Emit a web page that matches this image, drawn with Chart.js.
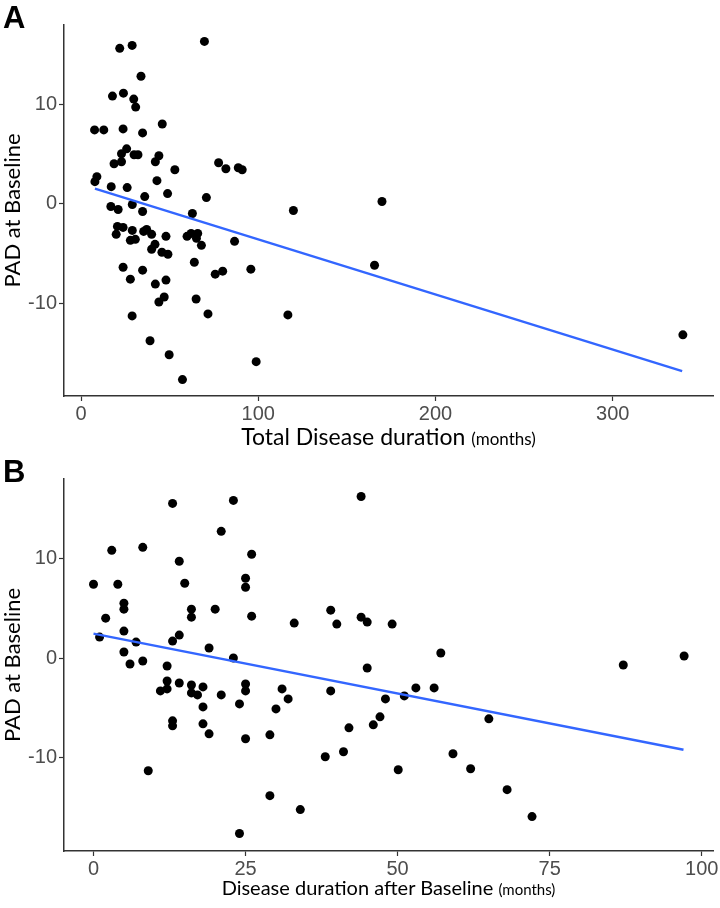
<!DOCTYPE html>
<html>
<head>
<meta charset="utf-8">
<script src="https://cdn.jsdelivr.net/npm/chart.js@4"></script>
<style>
  body { margin: 0; background: #fff; width: 720px; height: 908px; position: relative; overflow: hidden; }
  .panel { position: absolute; left: 0; width: 720px; height: 454px; }
  .letter { position: absolute; left: 3px; font: bold 31px "Liberation Sans", Arial, sans-serif; line-height: 1; color: #000; }
  .xtitle { position: absolute; left: 64px; width: 649px; text-align: center; font-family: Lato, sans-serif; color: #000; }
  .xtitle.a { font-size: 23px; line-height: 27px; }
  .xtitle.a span { font-size: 17px; }
  .xtitle.b { font-size: 20px; line-height: 25px; }
  .xtitle.b span { font-size: 15px; }
</style>
</head>
<body>
<div class="panel" style="top:0"><canvas id="chartA" width="720" height="454"></canvas></div>
<div class="panel" style="top:454px"><canvas id="chartB" width="720" height="454"></canvas></div>
<div class="letter" style="top:2px">A</div>
<div class="letter" style="top:456px">B</div>
<div class="xtitle a" style="top:423px">Total Disease duration <span>(months)</span></div>
<div class="xtitle b" style="top:875px">Disease duration after Baseline <span>(months)</span></div>

<script>
// panel A: total disease duration (months) vs PAD at baseline
const totalDuration = [
  21.8, 28.8, 69.6, 33.8, 17.7, 23.9, 29.7, 30.8, 7.6, 12.8, 23.7, 34.7, 45.8, 25.7, 22.8, 29.9, 32.1,
  43.9, 41.9, 18.6, 22.8, 52.9, 77.6, 81.7, 88.7, 90.9, 8.9, 7.8, 17.0, 26.0, 42.8, 35.9, 48.8, 70.7,
  16.8, 20.9, 28.9, 34.7, 62.8, 20.5, 23.7, 19.8, 28.9, 27.8, 30.6, 35.3, 37.0, 39.8, 47.9, 41.7, 39.8,
  45.6, 49.0, 59.8, 62.1, 65.8, 65.1, 67.9, 86.6, 23.7, 34.7, 63.9, 27.8, 41.9, 47.9, 75.7, 79.9, 95.8,
  43.9, 46.9, 64.9, 28.8, 71.6, 38.9, 49.7, 98.8, 57.2, 119.8, 169.8, 165.6, 116.7, 339.6
];
const padA = [
  15.6, 15.9, 16.3, 12.8, 10.8, 11.1, 10.5, 9.7, 7.4, 7.4, 7.5, 7.1, 8.0, 5.5, 5.0, 4.9, 4.9,
  4.8, 4.2, 4.0, 4.2, 3.4, 4.1, 3.5, 3.6, 3.4, 2.7, 2.2, 1.7, 1.6, 2.3, 0.7, 1.0, 0.6,
  -0.3, -0.6, -0.1, -0.8, -1.0, -2.3, -2.4, -3.1, -2.7, -3.7, -3.6, -2.8, -2.6, -3.1, -3.3, -4.1, -4.6,
  -4.9, -5.1, -3.3, -3.0, -3.0, -3.5, -4.2, -3.8, -6.4, -6.7, -5.9, -7.6, -8.1, -7.7, -7.1, -6.8, -6.6,
  -9.9, -9.4, -9.6, -11.3, -11.1, -13.8, -15.2, -15.9, -17.7, -0.7, 0.2, -6.2, -11.2, -13.2
];
const fitAx = [7.8, 339.2];
const fitAy = [1.5, -16.85];
const xTicksA = [0, 100, 200, 300];

// panel B: disease duration after baseline (months) vs PAD at baseline
const afterDuration = [
  13.0, 23.0, 21.0, 3.0, 8.1, 26.0, 14.1, 0, 4.0, 15.0, 25.0, 25.0, 5.0, 5.0, 16.1, 16.1, 20.0, 26.0,
  2.0, 5.0, 1.0, 7.0, 14.1, 13.0, 19.0, 23.0, 5.0, 6.0, 8.1, 12.1, 12.1, 12.1, 11.0, 14.1, 16.1, 16.1,
  17.1, 18.0, 21.0, 25.0, 25.0, 24.0, 18.0, 13.0, 13.0, 18.0, 19.0, 25.0, 9.0, 24.0, 44.0, 33.0, 39.0,
  40.0, 44.0, 45.0, 49.1, 45.0, 31.0, 32.0, 30.0, 39.0, 48.0, 51.1, 53.0, 47.1, 46.0, 42.0, 29.0, 38.1,
  41.1, 50.1, 29.0, 34.0, 57.1, 56.0, 65.0, 59.1, 62.0, 68.0, 72.1, 87.1, 97.1
];
const padB = [
  15.5, 15.8, 12.7, 10.8, 11.1, 10.4, 9.7, 7.4, 7.4, 7.5, 8.0, 7.1, 5.5, 4.9, 4.9, 4.1, 4.9, 4.2,
  4.0, 2.7, 2.1, 1.6, 2.3, 1.7, 1.0, 0.0, 0.6, -0.6, -0.3, -0.8, -2.3, -3.1, -3.3, -2.5, -2.7, -3.5,
  -3.7, -2.9, -3.7, -2.6, -3.3, -4.6, -4.9, -6.3, -6.8, -6.6, -7.6, -8.1, -11.3, -17.6, 16.2, 3.5, 4.8,
  3.4, 4.1, 3.6, 3.4, -1.0, -3.1, -4.1, -5.1, -3.3, -4.1, -3.8, -3.0, -5.9, -6.7, -7.0, -7.7, -9.9,
  -9.4, -11.2, -13.8, -15.2, 0.5, -3.0, -6.1, -9.6, -11.1, -13.2, -15.9, -0.7, 0.2
];
const fitBx = [0, 97];
const fitBy = [2.45, -9.2];
const xTicksB = [0, 25, 50, 75, 100];

const yTicks = [-10, 0, 10];

function drawPanel(id, xs, ys, fitX, fitY, xMin, xMax, xTicks, xAxisHeight) {
  const tickFont = { family: "'Liberation Sans', Arial, sans-serif", size: 20 };
  new Chart(document.getElementById(id), {
    type: "scatter",
    data: {
      datasets: [
        {
          data: xs.map((x, i) => ({ x: x, y: ys[i] })),
          backgroundColor: "#000",
          borderColor: "#000",
          borderWidth: 0,
          pointRadius: 4.5,
          pointHoverRadius: 4.5,
          order: 1
        },
        {
          type: "line",
          data: fitX.map((x, i) => ({ x: x, y: fitY[i] })),
          borderColor: "#3366FF",
          borderWidth: 2.4,
          pointRadius: 0,
          fill: false,
          order: 0
        }
      ]
    },
    options: {
      responsive: false,
      animation: false,
      events: [],
      layout: { padding: { top: 25, right: 7, left: 0, bottom: 0 } },
      plugins: { legend: { display: false }, tooltip: { enabled: false } },
      scales: {
        x: {
          type: "linear",
          min: xMin,
          max: xMax,
          afterBuildTicks: s => { s.ticks = xTicks.map(v => ({ value: v })); },
          afterFit: s => { s.height = xAxisHeight; },
          grid: { drawOnChartArea: false, tickLength: 5, tickColor: "#333", tickWidth: 1.2 },
          border: { color: "#333", width: 1.5 },
          ticks: { font: tickFont, color: "#4d4d4d", padding: 1, maxRotation: 0 }
        },
        y: {
          type: "linear",
          min: -19.35,
          max: 17.95,
          afterBuildTicks: s => { s.ticks = yTicks.map(v => ({ value: v })); },
          afterFit: s => { s.width = 64; },
          grid: { drawOnChartArea: false, tickLength: 5, tickColor: "#333", tickWidth: 1.2 },
          border: { color: "#333", width: 1.5 },
          ticks: { font: tickFont, color: "#4d4d4d", padding: 2 },
          title: {
            display: true,
            text: "PAD at Baseline",
            color: "#000",
            font: { family: "Lato, sans-serif", size: 22 },
            padding: { top: 0, bottom: 0 }
          }
        }
      }
    }
  });
}

drawPanel("chartA", totalDuration, padA, fitAx, fitAy, -9.65, 356.6, xTicksA, 58);
drawPanel("chartB", afterDuration, padB, fitBx, fitBy, -4.85, 101.85, xTicksB, 57);
</script>
</body>
</html>
